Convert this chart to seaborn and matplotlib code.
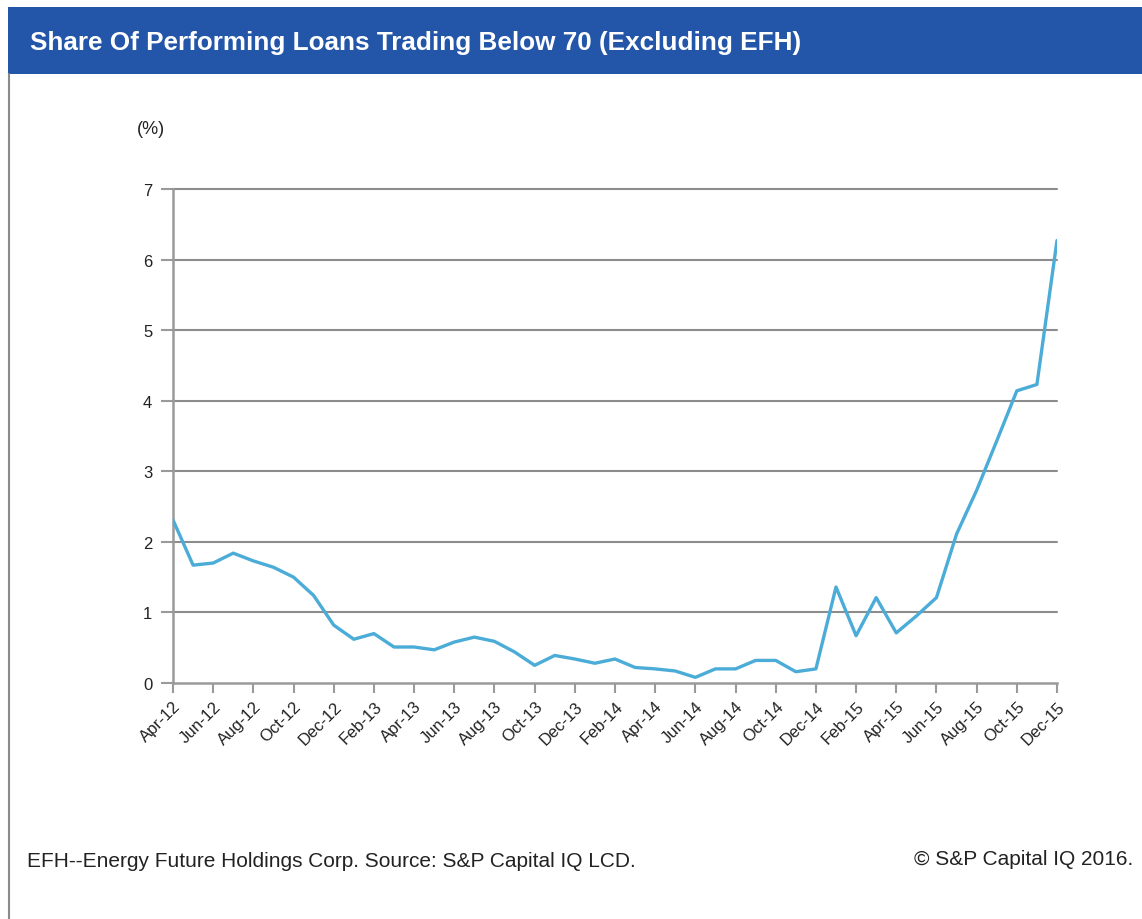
import matplotlib
matplotlib.use("Agg")
import matplotlib.pyplot as plt
from matplotlib.patches import Rectangle
from matplotlib.lines import Line2D
import pandas as pd
import seaborn as sns

# Monthly share of performing loans priced below 70, Apr-2012 .. Dec-2015
months = pd.date_range("2012-04-01", "2015-12-01", freq="MS")
share_below_70 = [
    2.31, 1.67, 1.70, 1.84, 1.73, 1.64, 1.50, 1.24, 0.82, 0.62,   # Apr-12 .. Jan-13
    0.70, 0.51, 0.51, 0.47, 0.58, 0.65, 0.59, 0.44, 0.25, 0.39,   # Feb-13 .. Nov-13
    0.34, 0.28, 0.34, 0.22, 0.20, 0.17, 0.08, 0.20, 0.20, 0.32,   # Dec-13 .. Sep-14
    0.32, 0.16, 0.20, 1.36, 0.67, 1.21, 0.71, 0.95, 1.21, 2.11,   # Oct-14 .. Jul-15
    2.73, 3.43, 4.14, 4.23, 6.27,                                 # Aug-15 .. Dec-15
]
y_ticks = [0, 1, 2, 3, 4, 5, 6, 7]

title_text = "Share Of Performing Loans Trading Below 70 (Excluding EFH)"
unit_text = "(%)"
note_text = "EFH--Energy Future Holdings Corp. Source: S&P Capital IQ LCD."
credit_text = "\u00a9 S&P Capital IQ 2016."

df = pd.DataFrame({"idx": range(len(months)), "share": share_below_70})
tick_idx = list(range(0, len(months), 2))
tick_labels = [months[i].strftime("%b-%y") for i in tick_idx]

sns.set_theme(style="white")
plt.rcParams["font.family"] = ["Liberation Sans", "DejaVu Sans"]

W, H = 1142, 920
fig = plt.figure(figsize=(W / 100, H / 100), dpi=100)
fig.patch.set_facecolor("white")

# header band and left frame line
fig.patches.append(Rectangle((8 / W, 1 - 75 / H), (W - 8) / W, 67 / H,
                             transform=fig.transFigure, facecolor="#2355A8",
                             edgecolor="none", zorder=0))
fig.lines.append(Line2D([8.5 / W, 8.5 / W], [0, 1 - 75 / H],
                        transform=fig.transFigure, color="#8a8a8a", lw=1.5))
fig.text(30 / W, 1 - 43 / H, title_text, color="white", fontsize=18.8,
         fontweight="bold", va="center", ha="left")

ax = fig.add_axes([173 / W, 1 - 684 / H, (1057 - 173) / W, (684 - 190) / H])
sns.lineplot(data=df, x="idx", y="share", ax=ax, color="#4BACD8",
             linewidth=2.4, zorder=3)

ax.set_xlim(0, len(months) - 1)
ax.set_ylim(0, 7)
ax.set_yticks(y_ticks)
ax.set_yticklabels([str(v) for v in y_ticks], fontsize=12, color="#222222")
ax.set_xticks(tick_idx)
ax.set_xticklabels(tick_labels, rotation=45, ha="right",
                   rotation_mode="anchor", fontsize=12, color="#222222")
ax.set_xlabel("")
ax.set_ylabel("")

for v in y_ticks[1:]:
    ax.axhline(v, color="#8c8c8c", lw=1.5, zorder=1, clip_on=False)

for side in ("top", "right"):
    ax.spines[side].set_visible(False)
for side in ("left", "bottom"):
    ax.spines[side].set_color("#9a9a9a")
    ax.spines[side].set_linewidth(1.8)

ax.tick_params(axis="y", direction="out", length=9, width=1.5,
               color="#9a9a9a", pad=6, left=True)
ax.tick_params(axis="x", direction="out", length=7, width=1.5,
               color="#9a9a9a", pad=4, bottom=True)

fig.text(137 / W, 1 - 130 / H, unit_text, fontsize=13, color="#222222",
         va="center", ha="left")
fig.text(27 / W, 1 - 862 / H, note_text, fontsize=15, color="#222222",
         va="center", ha="left")
fig.text(1133 / W, 1 - 860 / H, credit_text, fontsize=15, color="#222222",
         va="center", ha="right")

fig.savefig("out.png", dpi=100)
